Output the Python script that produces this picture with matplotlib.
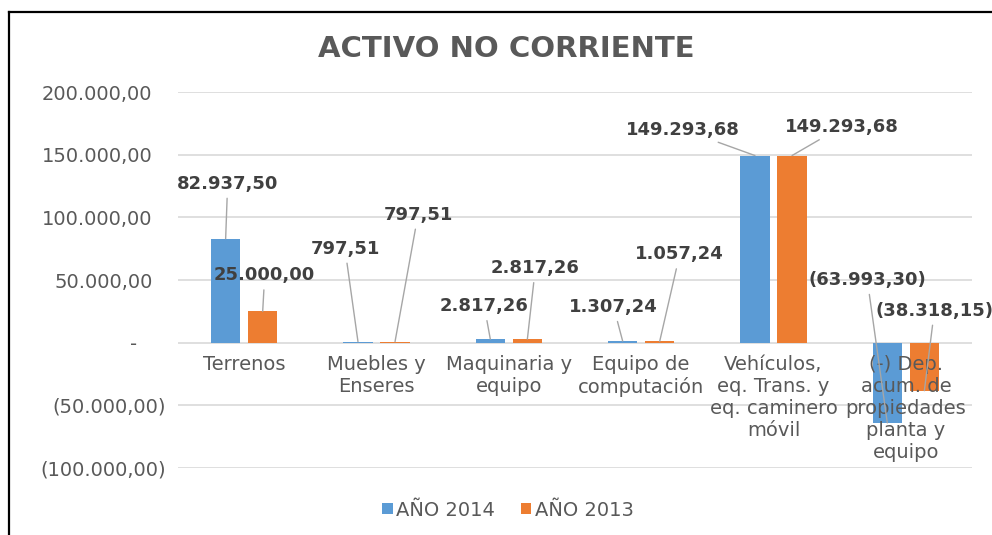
import matplotlib
matplotlib.use("Agg")
import matplotlib.pyplot as plt
import matplotlib.transforms as mtransforms
from matplotlib.lines import Line2D
import numpy as np

# Chart data
categories = ["Terrenos", "Muebles y\nEnseres", "Maquinaria y\nequipo",
              "Equipo de\ncomputación", "Vehículos,\neq. Trans. y\neq. caminero\nmóvil",
              "(-) Dep.\nacum. de\npropiedades\nplanta y\nequipo"]
anio_2014 = [82937.50, 797.51, 2817.26, 1307.24, 149293.68, -63993.30]
anio_2013 = [25000.00, 797.51, 2817.26, 1057.24, 149293.68, -38318.15]
labels_2014 = ["82.937,50", "797,51", "2.817,26", "1.307,24", "149.293,68", "(63.993,30)"]
labels_2013 = ["25.000,00", "797,51", "2.817,26", "1.057,24", "149.293,68", "(38.318,15)"]
yticks = [-100000, -50000, 0, 50000, 100000, 150000, 200000]
ytick_labels = ["(100.000,00)", "(50.000,00)", "-", "50.000,00", "100.000,00",
                "150.000,00", "200.000,00"]

# label offsets from bar end, in pixels (dx, dy up)
off_2014 = [(2, 55), (-13, 93), (-6, 33), (-9, 34), (-72, 26), (-20, 143)]
off_2013 = [(2, 36), (23, 127), (8, 71), (20, 87), (50, 29), (10, 80)]

BLUE = "#5B9BD5"
ORANGE = "#ED7D31"
TXT = "#595959"
LBL = "#404040"
GRID = "#D9D9D9"

plt.rcParams['font.family'] = ['DejaVu Sans']

fig = plt.figure(figsize=(9.92, 5.35), dpi=100)
ax = fig.add_axes([178 / 992, 1 - 468 / 535, 794 / 992, 376 / 535])

x = np.arange(len(categories))
w = 0.223
d = 0.14
ax.bar(x - d, anio_2014, w, color=BLUE, label="AÑO 2014", zorder=2)
ax.bar(x + d, anio_2013, w, color=ORANGE, label="AÑO 2013", zorder=2)

ax.set_xlim(-0.5, len(categories) - 0.5)
ax.set_ylim(-100000, 200000)
ax.set_yticks(yticks)
ax.set_yticklabels(ytick_labels)
ax.set_axisbelow(True)
ax.yaxis.grid(True, color=GRID, lw=1.2)
for s in ax.spines.values():
    s.set_visible(False)
ax.spines['bottom'].set_position(('data', 0))
ax.set_xticks(x)
ax.set_xticklabels(categories)
ax.tick_params(axis='x', length=0, pad=9, labelsize=14, labelcolor=TXT)
ax.tick_params(axis='y', length=0, pad=9, labelsize=14, labelcolor=TXT)
# category names are drawn over the bars, as in the original
ax.xaxis.set_zorder(4)

# accounting-style alignment of y labels
for t in ax.get_yticklabels():
    s = t.get_text()
    if s == "-":
        dx = -28
    elif s.endswith(")"):
        dx = 0
    else:
        dx = -13
    t.set_transform(t.get_transform() + mtransforms.ScaledTranslation(dx / 100, 0, fig.dpi_scale_trans))

# data labels with leader lines
for xs, vals, labs, offs in [(x - d, anio_2014, labels_2014, off_2014),
                             (x + d, anio_2013, labels_2013, off_2013)]:
    for xi, v, lab, (ox, oy) in zip(xs, vals, labs, offs):
        ax.annotate(lab, xy=(xi, v), xytext=(ox * 0.72, oy * 0.72),
                    textcoords='offset points', ha='center', va='center',
                    fontsize=13, fontweight='bold', color=LBL, zorder=6,
                    arrowprops=dict(arrowstyle='-', color="#A6A6A6", lw=1,
                                    shrinkA=2, shrinkB=0))

fig.text(506 / 992, 1 - 49 / 535, "ACTIVO NO CORRIENTE", ha='center', va='center',
         fontsize=21, fontweight='bold', color=TXT)

fig.legend(loc='center', bbox_to_anchor=(508 / 992, 1 - 510 / 535), ncol=2,
           frameon=False, fontsize=14, labelcolor=TXT, handlelength=0.55,
           handleheight=0.55, handletextpad=0.2, columnspacing=1.3)

# chart frame
fig.add_artist(Line2D([8.5 / 992, 8.5 / 992], [0, 1 - 11.5 / 535], color="black", lw=1.6,
                      transform=fig.transFigure))
fig.add_artist(Line2D([8.5 / 992, 1], [1 - 11.5 / 535, 1 - 11.5 / 535], color="black", lw=1.6,
                      transform=fig.transFigure))

fig.savefig("out.png", dpi=100)
